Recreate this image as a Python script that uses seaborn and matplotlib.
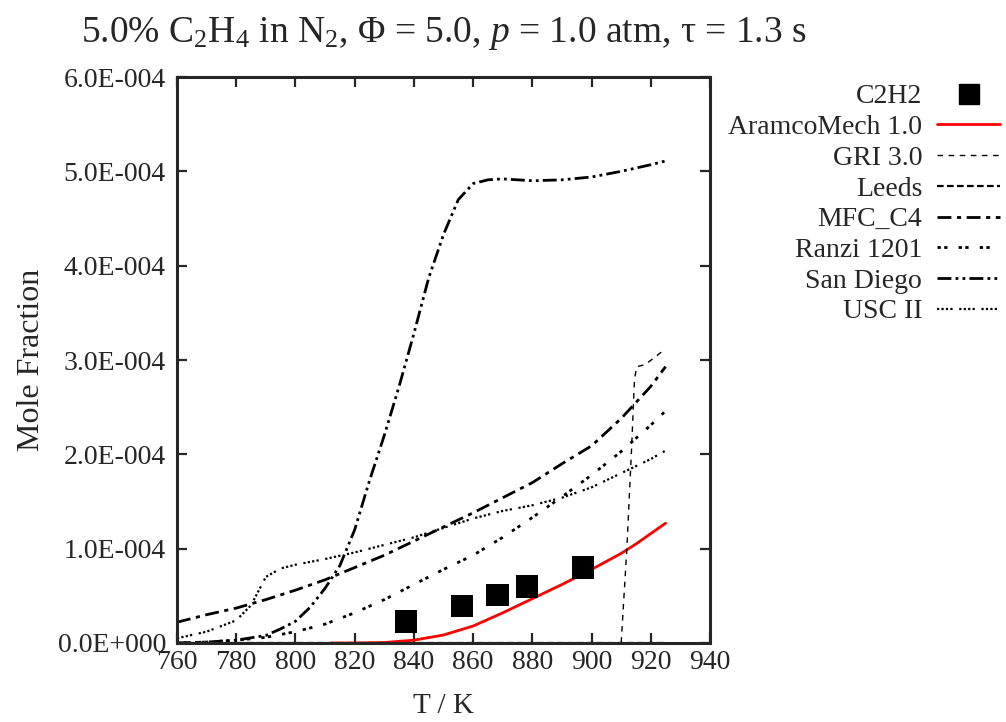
import matplotlib
matplotlib.use("Agg")
import matplotlib.pyplot as plt
import seaborn as sns
import pandas as pd
from matplotlib.lines import Line2D
from matplotlib.ticker import FuncFormatter, MultipleLocator

# measured C2H2 (mole fraction, x1e-4)
exp_T = [837.3, 856.3, 868.2, 878.1, 897.2]
exp_x = [0.226, 0.392, 0.509, 0.597, 0.802]

aramco_T = [812, 820, 830, 840, 850, 860, 870, 880, 890, 900, 910, 915, 920, 925]
aramco_x = [0.0, 0.0, 0.005, 0.03, 0.085, 0.18, 0.32, 0.47, 0.62, 0.78, 0.95, 1.05, 1.16, 1.27]

gri_T = [760, 910, 911.9, 913.5, 914.5, 915.3, 918, 921, 925]
gri_x = [0.0, 0.0, 0.99, 2.05, 2.80, 2.93, 2.95, 3.02, 3.12]

leeds_T = [760, 800, 850, 900, 925]
leeds_x = [0.0, 0.0, 0.0, 0.0, 0.0]

mfc_T = [760, 770, 780, 790, 800, 810, 820, 830, 840, 850, 860, 870, 880, 890, 900, 910, 920, 925]
mfc_x = [0.22, 0.30, 0.37, 0.46, 0.56, 0.67, 0.80, 0.93, 1.08, 1.23, 1.38, 1.54, 1.70, 1.90, 2.09, 2.38, 2.72, 2.93]

ranzi_T = [760, 770, 780, 790, 800, 810, 820, 830, 840, 850, 860, 870, 880, 890, 900, 910, 920, 925]
ranzi_x = [0.0, 0.01, 0.03, 0.06, 0.12, 0.20, 0.32, 0.46, 0.62, 0.78, 0.93, 1.12, 1.33, 1.55, 1.78, 2.03, 2.31, 2.46]

sd_T = [760, 770, 780, 790, 795, 800, 805, 810, 815, 820, 825, 830, 835, 840, 845, 850, 855, 860, 865, 870, 880, 890, 900, 910, 920, 925]
sd_x = [0.0, 0.01, 0.03, 0.08, 0.15, 0.23, 0.38, 0.58, 0.82, 1.20, 1.72, 2.20, 2.72, 3.28, 3.87, 4.33, 4.70, 4.87, 4.91, 4.92, 4.90, 4.91, 4.94, 5.00, 5.07, 5.11]

usc_T = [760, 770, 780, 785, 790, 795, 800, 810, 820, 830, 840, 850, 860, 870, 880, 890, 900, 910, 920, 925]
usc_x = [0.05, 0.12, 0.24, 0.40, 0.70, 0.79, 0.83, 0.89, 0.96, 1.04, 1.12, 1.22, 1.32, 1.40, 1.46, 1.54, 1.65, 1.80, 1.95, 2.04]

# (label, T, x, colour, dash pattern, linewidth)
models = [
    ("AramcoMech 1.0", aramco_T, aramco_x, "red", "-", 2.0),
    ("GRI 3.0", gri_T, gri_x, "black", (0, (4, 4)), 1.0),
    ("Leeds", leeds_T, leeds_x, "black", (0, (3, 1.5)), 1.6),
    ("MFC_C4", mfc_T, mfc_x, "black", (0, (5, 2, 1.5, 2)), 2.0),
    ("Ranzi 1201", ranzi_T, ranzi_x, "black", (0, (1.2, 1.2, 1.2, 4)), 2.0),
    ("San Diego", sd_T, sd_x, "black", (0, (5, 1.5, 1, 1.5, 1, 1.5)), 2.0),
    ("USC II", usc_T, usc_x, "black", (0, (1, 1, 1, 1, 1, 1, 1, 3)), 1.6),
]

sns.set_style("ticks")
plt.rcParams["font.family"] = ["Liberation Serif", "DejaVu Serif"]
plt.rcParams["mathtext.fontset"] = "custom"
plt.rcParams["mathtext.rm"] = "Liberation Serif"
plt.rcParams["mathtext.it"] = "Liberation Serif:italic"

fig = plt.figure(figsize=(10.06, 7.22), dpi=100)
ax = fig.add_axes([177 / 1006, 79 / 722, 533 / 1006, 566 / 722])

for label, T, x, col, ls, lw in models:
    df = pd.DataFrame({"T": T, "x": [v * 1e-4 for v in x]})
    sns.lineplot(data=df, x="T", y="x", ax=ax, color=col, linestyle=ls,
                 linewidth=lw, estimator=None, sort=False)

exp_df = pd.DataFrame({"T": exp_T, "x": [v * 1e-4 for v in exp_x]})
sns.scatterplot(data=exp_df, x="T", y="x", ax=ax, marker="s", s=260,
                color="black", edgecolor="none", zorder=5)

ax.set_xlim(760, 940)
ax.set_ylim(0, 6e-4)
ax.xaxis.set_major_locator(MultipleLocator(20))
ax.yaxis.set_major_locator(MultipleLocator(1e-4))


def sci_fmt(v, pos):
    if abs(v) < 1e-12:
        return "0.0E+000"
    s = f"{v:.1E}"
    mant, exp = s.split("E")
    e = int(exp)
    sign = "-" if e < 0 else "+"
    return f"{mant}E{sign}{abs(e):03d}"


ax.yaxis.set_major_formatter(FuncFormatter(sci_fmt))
ax.tick_params(direction="in", length=7, width=1.6, top=True, right=True,
               labelsize=20)
ax.tick_params(axis="y", pad=8)
ax.tick_params(axis="x", pad=5)
for sp in ax.spines.values():
    sp.set_linewidth(2.2)

ax.set_xlabel("T / K", fontsize=21, labelpad=13)
ax.set_ylabel("Mole Fraction", fontsize=23, labelpad=8)
ax.set_title("5.0% C$_2$H$_4$ in N$_2$, Φ = 5.0, $p$ = 1.0 atm, τ = 1.3 s",
             fontsize=27, pad=25)

handles = [Line2D([], [], marker="s", color="black", linestyle="none", markersize=14)]
labels = ["C2H2"]
for label, T, x, col, ls, lw in models:
    handles.append(Line2D([], [], color=col, linestyle=ls, linewidth=lw))
    labels.append(label)

fig.legend(handles, labels, loc="upper right", bbox_to_anchor=(1.008, 0.903),
           frameon=False, markerfirst=False, fontsize=20, handlelength=2.27,
           handletextpad=0.54, labelspacing=0.19, borderpad=0)

fig.savefig("out.png", dpi=100)
